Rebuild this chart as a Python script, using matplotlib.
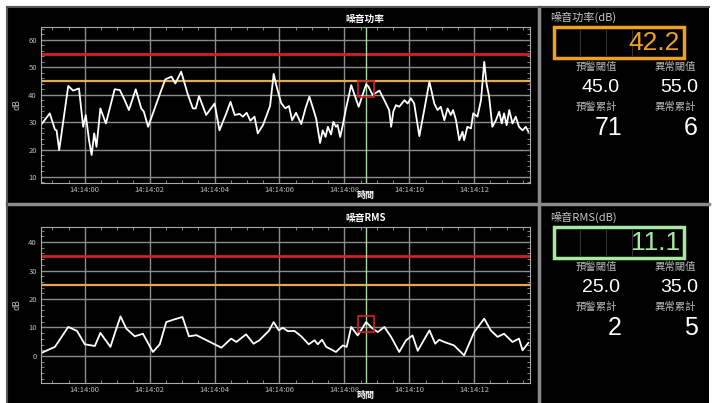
import matplotlib
matplotlib.use('Agg')
import matplotlib.pyplot as plt
from matplotlib.patches import Rectangle
from matplotlib.ticker import MultipleLocator

plt.rcParams['font.family'] = ['Noto Sans CJK TC', 'DejaVu Sans']

# time in seconds after 14:14:00
t_power = [-1.33, -1.08, -0.92, -0.87, -0.79, -0.51, -0.36, -0.18, -0.05, 0.03,
           0.13, 0.21, 0.29, 0.36, 0.48, 0.65, 0.92, 1.08, 1.23, 1.36,
           1.57, 1.74, 1.82, 1.95, 2.10, 2.29, 2.48, 2.67, 2.79, 2.97,
           3.18, 3.33, 3.42, 3.52, 3.74, 4.00, 4.15, 4.36, 4.49, 4.62,
           4.77, 4.87, 4.99, 5.10, 5.23, 5.33, 5.49, 5.71, 5.82, 5.90,
           6.05, 6.18, 6.29, 6.39, 6.51, 6.67, 6.80, 6.92, 7.05, 7.13,
           7.25, 7.33, 7.42, 7.49, 7.59, 7.66, 7.74, 7.79, 7.87, 7.95,
           8.05, 8.21, 8.44, 8.67, 8.74, 8.87, 9.08, 9.23, 9.38, 9.44,
           9.51, 9.59, 9.69, 9.85, 9.95, 10.05, 10.15, 10.31, 10.46, 10.62,
           10.77, 10.87, 10.97, 11.08, 11.18, 11.28, 11.35, 11.44, 11.54, 11.64,
           11.69, 11.79, 11.90, 11.97, 12.10, 12.21, 12.31, 12.38, 12.46, 12.56,
           12.67, 12.77, 12.85, 12.92, 13.00, 13.08, 13.18, 13.28, 13.38, 13.49,
           13.59, 13.67]
power = [29.3, 33.2, 27.3, 27.0, 19.8, 43.2, 41.5, 42.3, 28.3, 32.6,
         23.4, 18.0, 25.9, 21.0, 35.0, 29.5, 42.0, 41.7, 38.0, 34.4,
         42.0, 35.0, 33.8, 28.3, 33.2, 39.5, 45.6, 46.6, 44.1, 48.4,
         39.9, 35.0, 35.0, 39.5, 32.6, 36.8, 27.0, 33.2, 37.4, 32.6,
         33.0, 32.0, 33.4, 30.5, 32.0, 25.9, 28.9, 35.9, 47.6, 43.5,
         37.0, 35.0, 35.9, 30.7, 33.4, 29.3, 35.0, 39.3, 34.4, 31.3,
         22.4, 27.0, 24.6, 28.3, 25.5, 30.1, 28.3, 29.0, 24.6, 28.9,
         35.0, 43.5, 35.6, 43.8, 43.0, 39.9, 41.5, 38.0, 34.4, 28.3,
         34.0, 36.2, 35.6, 38.0, 36.8, 38.7, 36.8, 24.9, 34.4, 44.8,
         36.8, 34.4, 35.6, 30.7, 35.0, 32.6, 34.4, 30.7, 23.4, 26.5,
         23.4, 28.3, 27.7, 33.2, 32.0, 38.0, 52.0, 44.1, 39.3, 28.3,
         30.7, 33.8, 29.5, 33.2, 28.9, 34.4, 29.5, 32.0, 28.3, 27.0,
         28.3, 26.5]

t_rms = [-1.33, -0.92, -0.51, -0.24, 0.00, 0.31, 0.48, 0.79, 0.92, 1.10,
         1.28, 1.54, 1.79, 2.10, 2.31, 2.51, 2.72, 3.01, 3.21, 3.44,
         3.79, 4.21, 4.51, 4.67, 4.97, 5.20, 5.38, 5.67, 5.82, 5.98,
         6.10, 6.26, 6.46, 6.67, 6.90, 7.08, 7.18, 7.31, 7.44, 7.74,
         7.95, 8.07, 8.21, 8.41, 8.67, 8.87, 9.03, 9.23, 9.44, 9.69,
         9.90, 10.10, 10.26, 10.62, 10.80, 10.92, 11.08, 11.38, 11.69, 12.00,
         12.31, 12.51, 12.72, 12.92, 13.18, 13.38, 13.49, 13.67]
rms = [1.1, 3.2, 10.2, 8.8, 4.1, 3.5, 8.1, 3.2, 7.8, 13.9,
       9.6, 6.9, 7.8, 1.4, 4.1, 11.9, 12.7, 13.7, 6.9, 7.3,
       5.3, 2.9, 6.1, 4.9, 7.6, 4.3, 5.5, 8.8, 11.9, 9.0,
       9.9, 8.7, 8.8, 6.9, 4.1, 5.5, 4.1, 5.7, 3.2, 1.4,
       3.7, 3.2, 10.2, 7.2, 11.9, 9.6, 8.4, 10.2, 6.7, 1.4,
       5.5, 7.2, 1.8, 9.0, 4.3, 5.7, 4.9, 3.7, 0.2, 8.4,
       13.1, 9.0, 6.7, 7.8, 4.9, 6.1, 2.0, 4.6]

tick_pos = [0, 2, 4, 6, 8, 10, 12]
tick_labels = ['14:14:00', '14:14:02', '14:14:04', '14:14:06',
               '14:14:08', '14:14:10', '14:14:12']
cursor_t = 8.67

power_now, rms_now = 42.2, 11.1
power_warn, power_alarm = 45.0, 55.0
rms_warn, rms_alarm = 25.0, 35.0
power_warn_count, power_alarm_count = 71, 6
rms_warn_count, rms_alarm_count = 2, 5

W, H = 715, 403
fig = plt.figure(figsize=(W / 100, H / 100), dpi=100, facecolor='white')

# background layer in pixel coordinates
bg = fig.add_axes([0, 0, 1, 1])
bg.set_xlim(0, W)
bg.set_ylim(H, 0)
bg.axis('off')
bg.add_patch(Rectangle((7, 7), 702, 396, facecolor='black', edgecolor='none'))
bg.plot([538.5, 538.5], [7, 403], color='#8a8a8a', lw=2.5)
bg.plot([7, 709], [204, 204], color='#8a8a8a', lw=2.5)
bg.plot([7, 7], [7, 403], color='#555555', lw=1.5)
bg.plot([7, 709], [7, 7], color='#555555', lw=1.5)

# narrow digits for the read-outs
DIGITS = ['Liberation Sans', 'DejaVu Sans']


def make_chart(top, t, vals, ylim, yticks, warn, alarm, now, title, yminor):
    ax = fig.add_axes([41 / W, 1 - (top + 156) / H, 489 / W, 156 / H])
    ax.set_facecolor('black')
    ax.set_xlim(-1.35, 13.72)
    ax.set_ylim(*ylim)
    ax.set_xticks(tick_pos)
    ax.set_xticklabels(tick_labels)
    ax.set_yticks(yticks)
    ax.xaxis.set_minor_locator(MultipleLocator(0.5))
    ax.yaxis.set_minor_locator(MultipleLocator(yminor))
    ax.tick_params(which='major', length=0, labelsize=5.5, colors='#bbbbbb', pad=3)
    ax.tick_params(axis='x', which='major', pad=2)
    ax.tick_params(which='minor', direction='in', length=2, color='#999999',
                   top=True, right=True)
    for s in ax.spines.values():
        s.set_color('#aaaaaa')
        s.set_linewidth(0.8)
    ax.grid(True, which='major', color='#8c8c8c', lw=1.0)

    # thresholds
    ax.axhline(alarm, color='#d42020', lw=2.0)
    ax.axhline(warn, color='#e8a848', lw=1.6)
    # cursor
    ax.axvline(cursor_t, color='#a8d8a0', lw=1.0)

    ax.plot(t, vals, color='white', lw=1.3)
    ax.plot([cursor_t], [now], marker='s', ms=11, mfc='none', mec='#d42020', mew=1.2)

    ax.set_title(title, color='white', fontsize=7, fontweight='bold', pad=4, x=0.663)
    ax.set_xlabel('時間', color='white', fontsize=6.5, fontweight='bold', labelpad=0)
    ax.xaxis.set_label_coords(0.663, -0.052)
    ax.set_ylabel('dB', color='#bbbbbb', fontsize=6, labelpad=5)
    return ax


make_chart(27, t_power, power, (7.8, 64.7), [10, 20, 30, 40, 50, 60],
           power_warn, power_alarm, power_now, '噪音功率', 2)
make_chart(227, t_rms, rms, (-9.5, 45.3), [0, 10, 20, 30, 40],
           rms_warn, rms_alarm, rms_now, '噪音RMS', 2)


def side_panel(y0, name, now, box_color, warn, alarm, warn_n, alarm_n):
    bg.text(550, y0 + 11, name, color='#c8c8c8', fontsize=8, va='center', ha='left')
    bg.add_patch(Rectangle((554, y0 + 21), 130, 31, facecolor='black',
                           edgecolor=box_color, lw=2.5))
    for xd in [580, 606, 632]:
        bg.plot([xd, xd], [y0 + 24, y0 + 49], color='#333333', lw=0.8)
    bg.text(680, y0 + 37, '%.1f' % now, color=box_color, fontsize=19,
            family=DIGITS, va='center', ha='right')
    bg.text(596, y0 + 61, '預警閾值', color='#b8b8b8', fontsize=7.5, ha='center', va='center')
    bg.text(675, y0 + 61, '異常閾值', color='#b8b8b8', fontsize=7.5, ha='center', va='center')
    bg.text(620, y0 + 81, '%.1f' % warn, color='white', fontsize=14,
            family=DIGITS, ha='right', va='center')
    bg.text(698, y0 + 81, '%.1f' % alarm, color='white', fontsize=14,
            family=DIGITS, ha='right', va='center')
    bg.text(596, y0 + 101, '預警累計', color='#b8b8b8', fontsize=7.5, ha='center', va='center')
    bg.text(675, y0 + 101, '異常累計', color='#b8b8b8', fontsize=7.5, ha='center', va='center')
    bg.text(622, y0 + 122, str(warn_n), color='white', fontsize=18,
            family=DIGITS, ha='right', va='center')
    bg.text(698, y0 + 122, str(alarm_n), color='white', fontsize=18,
            family=DIGITS, ha='right', va='center')


side_panel(6, '噪音功率(dB)', power_now, '#f0a020', power_warn, power_alarm,
           power_warn_count, power_alarm_count)
side_panel(206, '噪音RMS(dB)', rms_now, '#a8e8a0', rms_warn, rms_alarm,
           rms_warn_count, rms_alarm_count)

fig.savefig('out.png', dpi=100, facecolor='white')
